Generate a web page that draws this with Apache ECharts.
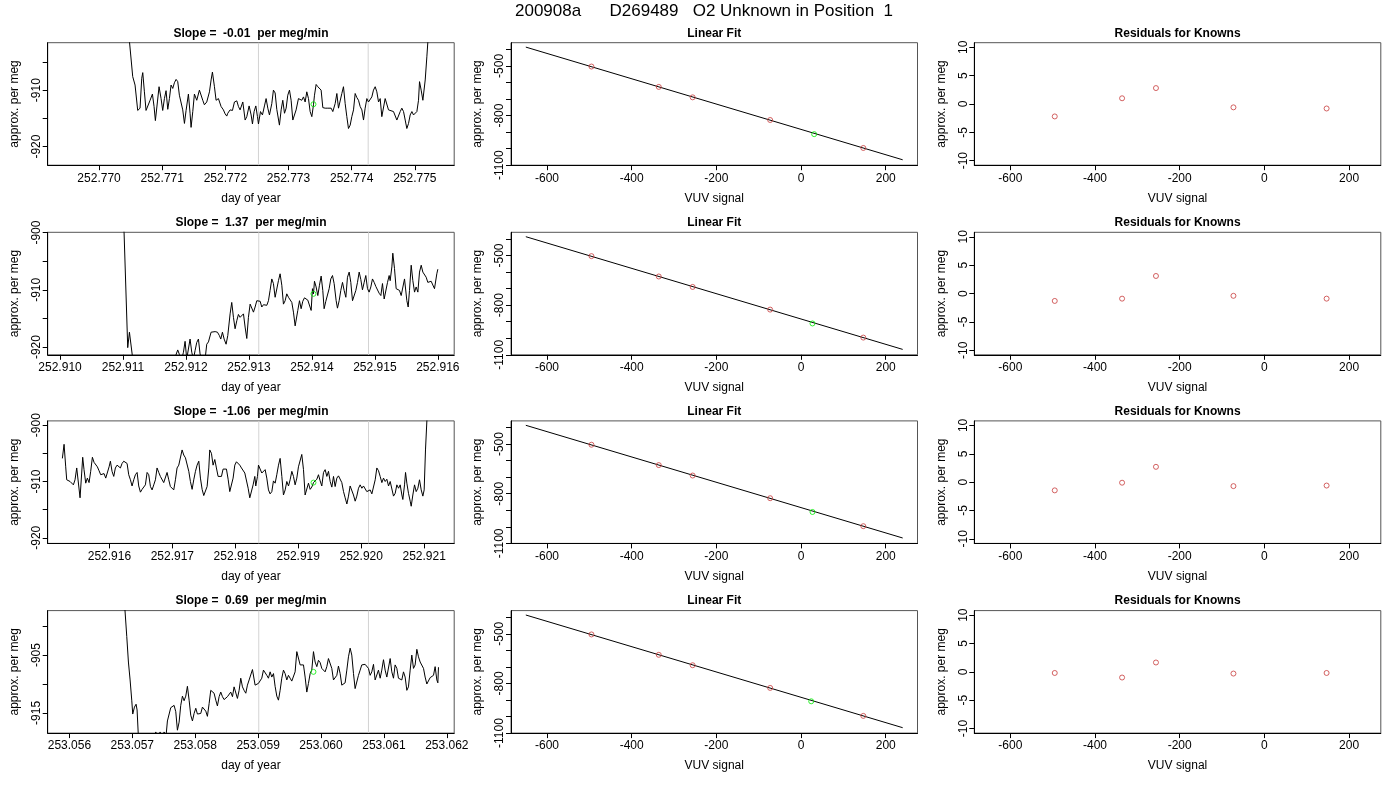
<!DOCTYPE html>
<html>
<head>
<meta charset="utf-8">
<title>200908a D269489 O2 Unknown in Position 1</title>
<script src="https://cdn.jsdelivr.net/npm/echarts@6/dist/echarts.min.js"></script>
<style>
html, body { margin: 0; padding: 0; background: #fff; }
#chart { width: 1400px; height: 800px; }
</style>
</head>
<body>
<div id="chart"></div>
<script>
var mainTitle = '200908a      D269489   O2 Unknown in Position  1';
var slopes = ['-0.01', '1.37', '-1.06', '0.69'];

// drift traces: [day of year, approx. per meg]
var drift1 = [[252.770465,-899.4],[252.770533,-907.6],[252.770570,-909.1],[252.770612,-913.6],[252.770649,-913.2],[252.770676,-907.9],[252.770692,-906.9],[252.770718,-910.3],[252.770744,-913.6],[252.770771,-913.4],[252.770808,-911.8],[252.770845,-910.7],[252.770871,-912.9],[252.770892,-915.4],[252.770924,-912.1],[252.770950,-909.4],[252.770982,-911.5],[252.771008,-913.6],[252.771035,-911.5],[252.771061,-910.1],[252.771088,-913.4],[252.771114,-911.5],[252.771140,-909.1],[252.771167,-909.7],[252.771193,-908.7],[252.771220,-908.1],[252.771246,-908.5],[252.771272,-910.9],[252.771299,-911.1],[252.771325,-913.5],[252.771352,-915.9],[252.771378,-913.6],[252.771415,-910.7],[252.771441,-914.1],[252.771457,-916.6],[252.771484,-913.8],[252.771510,-910.7],[252.771547,-911.8],[252.771563,-912.1],[252.771589,-910.0],[252.771616,-910.3],[252.771642,-911.8],[252.771668,-912.6],[252.771705,-912.1],[252.771748,-910.3],[252.771774,-908.2],[252.771795,-906.8],[252.771827,-909.4],[252.771853,-911.8],[252.771890,-911.5],[252.771932,-912.9],[252.771969,-913.5],[252.771996,-914.2],[252.772022,-914.6],[252.772038,-914.1],[252.772075,-913.5],[252.772112,-913.6],[252.772144,-912.1],[252.772181,-911.9],[252.772207,-912.9],[252.772233,-913.5],[252.772276,-912.1],[252.772313,-915.3],[252.772339,-914.7],[252.772376,-912.8],[252.772408,-914.4],[252.772429,-916.0],[252.772455,-913.8],[252.772482,-912.8],[252.772508,-914.7],[252.772524,-916.0],[252.772556,-913.8],[252.772587,-914.4],[252.772619,-912.8],[252.772645,-911.5],[252.772672,-913.2],[252.772698,-914.4],[252.772735,-912.4],[252.772761,-910.0],[252.772788,-910.5],[252.772814,-913.4],[252.772841,-913.5],[252.772856,-916.2],[252.772883,-913.5],[252.772909,-911.8],[252.772936,-914.1],[252.772962,-913.2],[252.772988,-910.9],[252.773015,-910.0],[252.773041,-911.8],[252.773068,-915.3],[252.773094,-915.0],[252.773120,-913.5],[252.773157,-911.5],[252.773184,-911.5],[252.773210,-911.8],[252.773237,-911.2],[252.773263,-912.1],[252.773289,-910.3],[252.773316,-911.5],[252.773342,-913.8],[252.773369,-914.7],[252.773395,-912.6],[252.773411,-910.9],[252.773437,-909.0],[252.773464,-909.4],[252.773490,-909.7],[252.773516,-910.0],[252.773543,-913.1],[252.773580,-913.2],[252.773622,-913.2],[252.773675,-913.2],[252.773701,-913.8],[252.773738,-912.4],[252.773765,-910.6],[252.773791,-913.2],[252.773817,-913.2],[252.773844,-910.6],[252.773870,-909.4],[252.773897,-912.4],[252.773923,-914.7],[252.773949,-916.8],[252.773976,-916.2],[252.774002,-914.7],[252.774029,-913.5],[252.774055,-910.6],[252.774081,-911.3],[252.774108,-911.8],[252.774134,-912.9],[252.774161,-913.5],[252.774187,-915.3],[252.774213,-913.2],[252.774240,-911.5],[252.774266,-912.1],[252.774293,-912.1],[252.774319,-911.2],[252.774345,-910.0],[252.774372,-909.4],[252.774398,-910.3],[252.774425,-912.1],[252.774451,-911.5],[252.774477,-914.7],[252.774504,-914.7],[252.774530,-911.5],[252.774557,-911.2],[252.774583,-913.5],[252.774609,-913.6],[252.774662,-913.8],[252.774715,-915.3],[252.774741,-915.3],[252.774768,-913.8],[252.774794,-913.2],[252.774821,-913.8],[252.774847,-915.3],[252.774873,-916.8],[252.774900,-915.9],[252.774926,-914.4],[252.774953,-913.8],[252.774979,-914.4],[252.775005,-914.4],[252.775032,-913.8],[252.775058,-911.8],[252.775074,-908.5],[252.775100,-910.0],[252.775127,-911.8],[252.775148,-911.5],[252.775164,-908.2],[252.775190,-904.1],[252.775222,-898.8]];

var drift2 = [[252.911001,-897.3],[252.911017,-900.0],[252.911075,-920.1],[252.911102,-917.4],[252.911128,-917.6],[252.911155,-922.1],[252.911271,-924.2],[252.911748,-924.2],[252.911869,-920.5],[252.911896,-921.3],[252.911933,-922.1],[252.911960,-920.9],[252.911986,-919.0],[252.912012,-922.1],[252.912039,-922.1],[252.912065,-918.6],[252.912092,-920.9],[252.912118,-922.1],[252.912145,-920.6],[252.912171,-919.2],[252.912198,-918.6],[252.912224,-921.2],[252.912251,-922.1],[252.912304,-922.1],[252.912330,-919.5],[252.912357,-919.1],[252.912383,-919.1],[252.912399,-917.4],[252.912426,-917.3],[252.912463,-917.3],[252.912500,-917.4],[252.912531,-918.0],[252.912553,-918.6],[252.912579,-917.4],[252.912606,-918.6],[252.912637,-919.5],[252.912664,-918.0],[252.912701,-914.2],[252.912727,-912.2],[252.912754,-914.8],[252.912780,-916.8],[252.912807,-915.4],[252.912833,-914.3],[252.912860,-914.8],[252.912886,-914.8],[252.912913,-914.2],[252.912939,-916.5],[252.912966,-918.5],[252.912992,-914.8],[252.913019,-912.5],[252.913045,-912.7],[252.913072,-913.9],[252.913098,-913.0],[252.913125,-911.9],[252.913151,-911.6],[252.913178,-912.0],[252.913204,-913.0],[252.913231,-912.6],[252.913257,-912.5],[252.913284,-912.7],[252.913310,-911.9],[252.913336,-910.1],[252.913363,-908.1],[252.913389,-908.9],[252.913416,-911.3],[252.913442,-911.6],[252.913469,-908.4],[252.913495,-907.2],[252.913522,-909.2],[252.913548,-912.5],[252.913575,-911.9],[252.913601,-910.7],[252.913628,-911.3],[252.913654,-911.0],[252.913681,-912.2],[252.913707,-913.9],[252.913734,-916.3],[252.913750,-916.5],[252.913776,-913.6],[252.913803,-911.9],[252.913829,-913.3],[252.913855,-912.0],[252.913882,-911.4],[252.913908,-911.4],[252.913935,-911.8],[252.913961,-911.6],[252.913988,-913.6],[252.914009,-909.8],[252.914025,-910.7],[252.914041,-908.5],[252.914067,-909.5],[252.914094,-911.0],[252.914120,-909.2],[252.914147,-907.6],[252.914173,-910.1],[252.914194,-913.3],[252.914221,-912.0],[252.914247,-911.8],[252.914274,-909.8],[252.914300,-908.1],[252.914327,-907.5],[252.914353,-908.9],[252.914385,-911.9],[252.914406,-913.2],[252.914433,-911.9],[252.914459,-910.1],[252.914486,-908.7],[252.914512,-910.1],[252.914539,-911.3],[252.914565,-907.8],[252.914592,-906.9],[252.914618,-908.7],[252.914645,-911.9],[252.914671,-912.0],[252.914698,-910.1],[252.914724,-908.7],[252.914751,-906.9],[252.914777,-908.2],[252.914803,-910.0],[252.914830,-908.7],[252.914856,-907.5],[252.914883,-909.8],[252.914909,-910.4],[252.914936,-909.5],[252.914962,-908.1],[252.914989,-908.7],[252.915015,-909.4],[252.915042,-909.5],[252.915068,-910.6],[252.915095,-911.0],[252.915121,-908.9],[252.915148,-911.6],[252.915174,-911.9],[252.915201,-908.7],[252.915227,-907.5],[252.915243,-908.4],[252.915270,-906.0],[252.915285,-903.6],[252.915312,-906.3],[252.915338,-909.8],[252.915365,-910.0],[252.915391,-910.1],[252.915418,-911.0],[252.915444,-911.0],[252.915471,-908.1],[252.915492,-907.8],[252.915508,-911.9],[252.915529,-913.0],[252.915550,-910.1],[252.915577,-905.7],[252.915603,-908.4],[252.915630,-910.4],[252.915656,-909.5],[252.915683,-910.4],[252.915709,-906.9],[252.915736,-905.7],[252.915762,-906.9],[252.915788,-907.2],[252.915815,-907.8],[252.915841,-908.7],[252.915868,-908.8],[252.915894,-908.5],[252.915921,-908.7],[252.915947,-909.8],[252.915974,-909.8],[252.915984,-907.2],[252.916000,-906.4]];

var drift3 = [[252.915253,-905.9],[252.915280,-903.4],[252.915306,-907.4],[252.915322,-909.7],[252.915348,-909.6],[252.915375,-910.0],[252.915401,-910.3],[252.915428,-910.6],[252.915454,-909.7],[252.915481,-907.6],[252.915507,-907.6],[252.915534,-912.9],[252.915560,-908.5],[252.915576,-905.7],[252.915597,-907.9],[252.915624,-910.3],[252.915650,-909.4],[252.915677,-910.2],[252.915703,-908.2],[252.915730,-905.7],[252.915756,-906.6],[252.915783,-906.9],[252.915809,-907.4],[252.915836,-908.1],[252.915862,-908.8],[252.915889,-908.8],[252.915915,-908.6],[252.915942,-909.4],[252.915968,-909.7],[252.915995,-907.4],[252.916016,-906.4],[252.916042,-908.2],[252.916069,-909.1],[252.916095,-907.6],[252.916122,-907.1],[252.916148,-907.4],[252.916175,-907.6],[252.916201,-906.8],[252.916228,-906.4],[252.916254,-906.4],[252.916281,-906.8],[252.916307,-908.8],[252.916334,-909.7],[252.916360,-910.8],[252.916387,-909.7],[252.916413,-908.8],[252.916440,-908.4],[252.916466,-910.8],[252.916493,-911.9],[252.916519,-911.4],[252.916546,-911.6],[252.916572,-910.6],[252.916599,-908.4],[252.916625,-908.8],[252.916652,-910.9],[252.916678,-911.5],[252.916705,-910.6],[252.916731,-909.7],[252.916757,-907.6],[252.916784,-908.4],[252.916810,-909.1],[252.916837,-908.8],[252.916863,-910.2],[252.916890,-910.4],[252.916916,-908.4],[252.916943,-909.7],[252.916969,-910.9],[252.916996,-911.2],[252.917022,-911.5],[252.917049,-909.7],[252.917075,-907.6],[252.917102,-907.1],[252.917128,-906.8],[252.917155,-904.4],[252.917181,-905.3],[252.917208,-905.8],[252.917234,-906.1],[252.917261,-908.2],[252.917287,-910.0],[252.917314,-911.4],[252.917340,-909.7],[252.917367,-908.2],[252.917393,-907.1],[252.917420,-906.4],[252.917446,-909.4],[252.917473,-911.4],[252.917499,-912.5],[252.917526,-912.2],[252.917552,-910.9],[252.917579,-907.6],[252.917594,-904.4],[252.917621,-905.0],[252.917647,-907.1],[252.917674,-906.1],[252.917700,-907.6],[252.917727,-909.1],[252.917753,-909.0],[252.917780,-909.1],[252.917806,-907.8],[252.917833,-907.9],[252.917859,-907.8],[252.917886,-909.6],[252.917912,-911.8],[252.917939,-911.6],[252.917965,-909.4],[252.917992,-907.1],[252.918018,-906.5],[252.918045,-906.6],[252.918071,-907.1],[252.918098,-907.6],[252.918124,-907.8],[252.918151,-908.5],[252.918177,-908.8],[252.918204,-911.2],[252.918230,-912.9],[252.918257,-913.1],[252.918283,-910.6],[252.918310,-909.1],[252.918325,-910.8],[252.918352,-909.1],[252.918368,-907.1],[252.918394,-907.4],[252.918421,-908.5],[252.918447,-908.2],[252.918474,-907.9],[252.918500,-909.4],[252.918527,-911.5],[252.918553,-912.2],[252.918580,-911.8],[252.918606,-909.9],[252.918633,-910.3],[252.918659,-908.8],[252.918686,-907.1],[252.918712,-905.9],[252.918739,-909.1],[252.918765,-912.4],[252.918792,-911.5],[252.918818,-910.0],[252.918845,-910.8],[252.918871,-909.7],[252.918898,-908.2],[252.918924,-909.1],[252.918950,-910.6],[252.918977,-909.4],[252.919003,-907.4],[252.919030,-907.1],[252.919056,-905.2],[252.919083,-907.9],[252.919109,-912.4],[252.919136,-912.1],[252.919162,-910.3],[252.919189,-911.4],[252.919215,-911.0],[252.919242,-910.2],[252.919268,-910.2],[252.919295,-909.6],[252.919321,-908.8],[252.919348,-909.9],[252.919374,-910.8],[252.919401,-908.4],[252.919427,-907.9],[252.919454,-909.1],[252.919480,-908.2],[252.919507,-910.0],[252.919533,-911.0],[252.919560,-909.1],[252.919586,-910.9],[252.919613,-909.4],[252.919639,-909.0],[252.919666,-908.8],[252.919692,-910.2],[252.919719,-911.8],[252.919745,-912.9],[252.919772,-914.0],[252.919798,-912.6],[252.919824,-910.8],[252.919851,-910.9],[252.919877,-912.4],[252.919904,-913.5],[252.919930,-912.6],[252.919957,-911.2],[252.919983,-910.6],[252.920010,-911.2],[252.920036,-910.8],[252.920063,-910.9],[252.920089,-911.8],[252.920116,-912.1],[252.920142,-911.5],[252.920169,-912.2],[252.920195,-912.4],[252.920222,-909.7],[252.920248,-907.6],[252.920275,-908.1],[252.920301,-909.1],[252.920328,-910.2],[252.920354,-909.4],[252.920381,-910.0],[252.920407,-909.6],[252.920434,-910.8],[252.920460,-910.0],[252.920487,-910.3],[252.920513,-912.6],[252.920540,-912.1],[252.920566,-910.6],[252.920593,-911.2],[252.920619,-910.6],[252.920646,-912.4],[252.920661,-913.2],[252.920688,-910.6],[252.920704,-908.4],[252.920725,-910.3],[252.920751,-912.1],[252.920778,-913.5],[252.920794,-914.4],[252.920820,-912.4],[252.920847,-910.6],[252.920873,-911.8],[252.920900,-911.2],[252.920926,-909.7],[252.920953,-911.5],[252.920979,-912.6],[252.921000,-911.5],[252.921021,-904.4],[252.921043,-899.2],[252.921064,-894.4]];

var drift4 = [[253.056869,-894.9],[253.056912,-901.8],[253.056938,-906.2],[253.056965,-909.3],[253.056991,-912.8],[253.057007,-915.2],[253.057034,-914.0],[253.057060,-913.5],[253.057076,-914.5],[253.057097,-919.2],[253.057150,-921.5],[253.057336,-920.5],[253.057373,-918.3],[253.057405,-919.5],[253.057442,-918.3],[253.057474,-919.5],[253.057505,-918.3],[253.057537,-918.9],[253.057558,-916.4],[253.057585,-916.3],[253.057611,-914.1],[253.057638,-914.2],[253.057664,-913.7],[253.057691,-914.8],[253.057717,-918.0],[253.057744,-916.6],[253.057770,-913.7],[253.057797,-912.1],[253.057823,-912.9],[253.057850,-912.1],[253.057876,-910.4],[253.057903,-912.8],[253.057929,-915.4],[253.057956,-916.4],[253.057982,-915.1],[253.058009,-914.2],[253.058035,-915.2],[253.058062,-915.2],[253.058088,-915.1],[253.058115,-914.0],[253.058141,-914.0],[253.058168,-914.7],[253.058194,-915.6],[253.058221,-913.4],[253.058247,-911.1],[253.058274,-911.4],[253.058300,-911.6],[253.058327,-912.8],[253.058353,-913.8],[253.058380,-912.2],[253.058406,-911.4],[253.058433,-912.2],[253.058459,-912.7],[253.058486,-912.5],[253.058512,-912.2],[253.058539,-912.1],[253.058565,-911.4],[253.058592,-912.2],[253.058618,-910.5],[253.058645,-910.6],[253.058671,-912.5],[253.058698,-911.1],[253.058724,-909.0],[253.058751,-910.5],[253.058777,-911.1],[253.058804,-911.6],[253.058830,-910.2],[253.058857,-909.3],[253.058883,-909.3],[253.058910,-907.5],[253.058926,-907.6],[253.058952,-910.2],[253.058979,-910.4],[253.059005,-909.9],[253.059032,-909.6],[253.059058,-909.0],[253.059085,-907.6],[253.059111,-907.5],[253.059138,-908.5],[253.059164,-909.0],[253.059191,-907.9],[253.059217,-908.8],[253.059244,-908.2],[253.059270,-910.4],[253.059297,-912.1],[253.059323,-912.8],[253.059350,-911.1],[253.059376,-909.0],[253.059403,-907.6],[253.059429,-908.2],[253.059456,-909.3],[253.059482,-908.5],[253.059509,-909.0],[253.059535,-909.5],[253.059562,-909.2],[253.059588,-907.9],[253.059615,-904.4],[253.059641,-904.7],[253.059668,-906.7],[253.059694,-906.4],[253.059721,-906.7],[253.059747,-908.8],[253.059774,-911.4],[253.059800,-909.9],[253.059827,-908.2],[253.059853,-907.6],[253.059880,-904.4],[253.059906,-906.2],[253.059933,-907.0],[253.059959,-905.9],[253.059986,-906.3],[253.060012,-907.3],[253.060039,-907.6],[253.060065,-907.9],[253.060092,-907.0],[253.060118,-905.6],[253.060145,-905.9],[253.060171,-907.3],[253.060198,-909.3],[253.060224,-909.0],[253.060251,-908.5],[253.060277,-906.9],[253.060304,-908.2],[253.060330,-910.2],[253.060357,-910.5],[253.060383,-909.8],[253.060410,-907.6],[253.060436,-905.3],[253.060463,-903.8],[253.060489,-905.0],[253.060516,-908.2],[253.060542,-910.8],[253.060569,-910.5],[253.060595,-908.5],[253.060622,-907.6],[253.060648,-906.7],[253.060675,-906.4],[253.060701,-906.6],[253.060728,-906.9],[253.060754,-907.3],[253.060781,-908.5],[253.060807,-907.9],[253.060834,-906.6],[253.060860,-909.3],[253.060887,-909.0],[253.060913,-907.6],[253.060940,-909.0],[253.060966,-907.6],[253.060993,-905.8],[253.061019,-907.6],[253.061046,-908.8],[253.061072,-909.0],[253.061099,-905.6],[253.061125,-907.9],[253.061152,-909.0],[253.061178,-906.7],[253.061205,-907.3],[253.061231,-909.0],[253.061258,-909.0],[253.061284,-909.3],[253.061311,-907.9],[253.061337,-908.8],[253.061364,-911.1],[253.061390,-910.5],[253.061417,-907.6],[253.061443,-905.0],[253.061470,-907.3],[253.061496,-906.7],[253.061523,-904.0],[253.061549,-905.3],[253.061576,-906.2],[253.061602,-905.9],[253.061629,-907.3],[253.061655,-908.8],[253.061682,-910.0],[253.061708,-910.2],[253.061735,-908.9],[253.061761,-909.0],[253.061788,-908.5],[253.061814,-907.0],[253.061841,-909.3],[253.061857,-909.8],[253.061867,-907.1]];

var drifts = [drift1, drift2, drift3, drift4];

// axis ranges and ticks of the drift panels
var driftXRange = [[252.769187, 252.775623], [252.909804, 252.916260], [252.915020, 252.921477], [253.055655, 253.062117]];
var driftXTicks = [
  [252.770, 252.771, 252.772, 252.773, 252.774, 252.775],
  [252.910, 252.911, 252.912, 252.913, 252.914, 252.915, 252.916],
  [252.916, 252.917, 252.918, 252.919, 252.920, 252.921],
  [253.056, 253.057, 253.058, 253.059, 253.060, 253.061, 253.062]
];
var driftYRange = [[-923.3, -901.6], [-921.35, -899.95], [-921.0, -899.24], [-918.5, -897.3]];
var driftYTicks = [[-920, -915, -910, -905], [-920, -915, -910, -905, -900], [-920, -915, -910, -905, -900], [-915, -910, -905, -900]];
var driftYLabels = [[-920, -910], [-920, -910, -900], [-920, -910, -900], [-915, -905]];

// window limits (grey verticals) and unknown mean (green)
var windowLimits = [[252.772524, 252.774261], [252.913156, 252.914899], [252.918373, 252.920116], [253.059010, 253.060754]];
var unknownTime = [252.773395, 252.914025, 252.919242, 253.059880];
var unknownValue = [-912.5, -910.7, -910.2, -907.9];

// calibration
var knownSignal = [-495, -336, -256, -73, 147];
var knownValue = [-504, -627, -690, -827, -996];
var unknownSignal = [31, 27, 27, 24];
var fitSpan = [-650, 240];
var residuals = [
  [-2.2, 1.0, 2.8, -0.6, -0.8],
  [-1.3, -0.9, 3.1, -0.4, -0.9],
  [-1.45, -0.1, 2.7, -0.7, -0.6],
  [-0.2, -1.0, 1.65, -0.3, -0.2]
];
var signalRange = [-685, 275];
var signalTicks = [-600, -400, -200, 0, 200];
var fitYRange = [-1100, -360];
var fitYTicks = [-1100, -1000, -900, -800, -700, -600, -500, -400];
var fitYLabels = [-1100, -800, -500];
var residRange = [-10.8, 10.8];
var residTicks = [-10, -5, 0, 5, 10];

var FONT = '"Liberation Sans", Arial, Helvetica, sans-serif';
var colLeft = [47.7, 511, 974.3];
var colWidth = 406.5;
var rowTop = [42.7, 232.3, 420.9, 610.6];
var rowHeight = 122.5;

// least squares line through the knowns
function fitLine(xs, ys) {
  var n = xs.length, mx = 0, my = 0, sxy = 0, sxx = 0;
  for (var i = 0; i < n; i++) { mx += xs[i] / n; my += ys[i] / n; }
  for (var j = 0; j < n; j++) {
    sxy += (xs[j] - mx) * (ys[j] - my);
    sxx += (xs[j] - mx) * (xs[j] - mx);
  }
  var b = sxy / sxx;
  return { a: my - b * mx, b: b };
}

function makeAxis(grid, range, ticks, labels, fmt, name, isY) {
  return {
    type: 'value', gridIndex: grid, min: range[0], max: range[1],
    name: name, nameLocation: 'middle', nameGap: 27, nameRotate: isY ? 90 : 0,
    nameTextStyle: { color: '#000', fontSize: 12, fontFamily: FONT },
    axisLine: { show: true, onZero: false, lineStyle: { color: '#000', width: 1 } },
    axisTick: { show: true, length: 5, customValues: ticks, lineStyle: { color: '#000', width: 1 } },
    axisLabel: {
      customValues: labels, rotate: isY ? 90 : 0, margin: isY ? 5 : 7,
      color: '#000', fontSize: 12, fontFamily: FONT, formatter: fmt
    },
    splitLine: { show: false }
  };
}

function plain(v) { return String(v); }
function day(v) { return v.toFixed(3); }

var grids = [], xAxes = [], yAxes = [], series = [], titles = [];
titles.push({
  text: mainTitle, left: 704, top: 3, textAlign: 'center', padding: 0,
  textStyle: { fontSize: 17, fontWeight: 'normal', color: '#000', fontFamily: FONT }
});

var fit = fitLine(knownSignal, knownValue);
var redCircle = { color: 'transparent', borderColor: '#c83c3c', borderWidth: 1 };
var greenCircle = { color: 'transparent', borderColor: '#00ee00', borderWidth: 1 };

for (var r = 0; r < 4; r++) {
  var subTitles = ['Slope =  ' + slopes[r] + '  per meg/min', 'Linear Fit', 'Residuals for Knowns'];
  for (var c = 0; c < 3; c++) {
    grids.push({
      left: colLeft[c], top: rowTop[r], width: colWidth, height: rowHeight,
      show: true, borderColor: '#555', borderWidth: 1, backgroundColor: 'transparent'
    });
    titles.push({
      text: subTitles[c], left: colLeft[c] + colWidth / 2, top: rowTop[r] - 15.5,
      textAlign: 'center', padding: 0,
      textStyle: { fontSize: 12, fontWeight: 'bold', color: '#000', fontFamily: FONT }
    });
  }

  // drift panel
  var g0 = r * 3;
  var yr = driftYRange[r];
  xAxes.push(makeAxis(g0, driftXRange[r], driftXTicks[r], driftXTicks[r], day, 'day of year', false));
  yAxes.push(makeAxis(g0, yr, driftYTicks[r], driftYLabels[r], plain, 'approx. per meg', true));
  windowLimits[r].forEach(function (t) {
    series.push({
      type: 'line', xAxisIndex: g0, yAxisIndex: g0, showSymbol: false, symbol: 'none',
      silent: true, z: 1, lineStyle: { color: '#d3d3d3', width: 1 },
      data: [[t, yr[0]], [t, yr[1]]]
    });
  });
  series.push({
    type: 'line', xAxisIndex: g0, yAxisIndex: g0, data: drifts[r],
    showSymbol: false, symbol: 'none', clip: true, z: 3,
    lineStyle: { color: '#000', width: 1 }
  });
  series.push({
    type: 'scatter', xAxisIndex: g0, yAxisIndex: g0, z: 4,
    data: [[unknownTime[r], unknownValue[r]]],
    symbol: 'circle', symbolSize: 5, itemStyle: greenCircle
  });

  // linear fit panel
  var g1 = r * 3 + 1;
  xAxes.push(makeAxis(g1, signalRange, signalTicks, signalTicks, plain, 'VUV signal', false));
  yAxes.push(makeAxis(g1, fitYRange, fitYTicks, fitYLabels, plain, 'approx. per meg', true));
  series.push({
    type: 'line', xAxisIndex: g1, yAxisIndex: g1, showSymbol: false, symbol: 'none', z: 2,
    lineStyle: { color: '#000', width: 1 },
    data: fitSpan.map(function (x) { return [x, fit.a + fit.b * x]; })
  });
  series.push({
    type: 'scatter', xAxisIndex: g1, yAxisIndex: g1, z: 3, symbol: 'circle', symbolSize: 5,
    itemStyle: redCircle,
    data: knownSignal.map(function (x, i) { return [x, knownValue[i]]; })
  });
  series.push({
    type: 'scatter', xAxisIndex: g1, yAxisIndex: g1, z: 4, symbol: 'circle', symbolSize: 5,
    itemStyle: greenCircle,
    data: [[unknownSignal[r], unknownValue[r]]]
  });

  // residual panel
  var g2 = r * 3 + 2;
  xAxes.push(makeAxis(g2, signalRange, signalTicks, signalTicks, plain, 'VUV signal', false));
  yAxes.push(makeAxis(g2, residRange, residTicks, residTicks, plain, 'approx. per meg', true));
  series.push({
    type: 'scatter', xAxisIndex: g2, yAxisIndex: g2, z: 3, symbol: 'circle', symbolSize: 5,
    itemStyle: redCircle,
    data: knownSignal.map(function (x, i) { return [x, residuals[r][i]]; })
  });
}

var myChart = echarts.init(document.getElementById('chart'));
myChart.setOption({
  animation: false,
  backgroundColor: '#fff',
  title: titles,
  grid: grids,
  xAxis: xAxes,
  yAxis: yAxes,
  series: series
});
</script>
</body>
</html>
